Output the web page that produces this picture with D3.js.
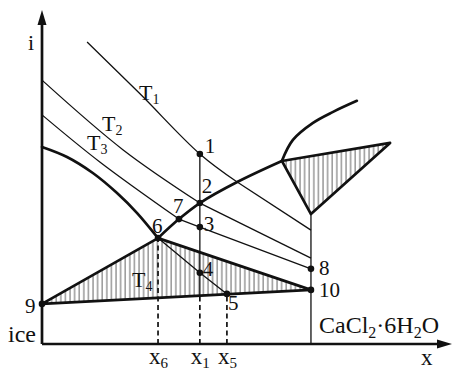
<!DOCTYPE html>
<html>
<head>
<meta charset="utf-8">
<script src="https://cdn.jsdelivr.net/npm/d3@7/dist/d3.min.js"></script>
<style>
  html, body { margin: 0; padding: 0; background: #fff; }
  svg { display: block; }
  text { font-family: "Liberation Serif", "DejaVu Serif", serif; fill: #111; }
</style>
</head>
<body>
<script>
// Enthalpy–concentration (i–x) diagram of the water – CaCl2·6H2O system.
// Coordinates are in relative units: x (concentration) 0..100, i (enthalpy) 0..100.

// Thick boundary curves
const iceCurve        = [[0, 59.0], [6.1, 56.0], [12.4, 51.2], [18.3, 45.2], [23.2, 39.2], [28.3, 31.7]];
const saturationCurve = [[28.3, 31.7], [33.4, 37.4], [38.5, 42.2], [47.6, 48.5], [58.5, 54.8]];
const upperCurve      = [[58.5, 54.8], [61.2, 61.1], [66.1, 66.2], [71.0, 69.5], [76.8, 72.8]];

// Hatched two-phase regions
const eutecticTriangle = [[0, 12.0], [28.3, 31.7], [65.6, 16.2]];
const hydrateTriangle  = [[58.5, 54.8], [84.9, 60.2], [65.6, 38.9]];

// Isotherms: curved branch in the solution field, straight tie line below saturation
const isoT1Curve = [[11.0, 90.4], [23.9, 74.9], [38.5, 56.9], [47.6, 48.5]];
const isoT1Tie   = [[47.6, 48.5], [65.6, 34.1]];
const isoT2Curve = [[0, 79.0], [19.8, 58.1], [38.5, 42.2]];
const isoT2Tie   = [[38.5, 42.2], [65.6, 25.7]];
const isoT3Curve = [[0, 68.6], [14.1, 54.5], [33.4, 37.4]];
const isoT3Tie   = [[33.4, 37.4], [38.5, 35.0], [65.6, 22.5]];
const mixLine    = [[28.3, 31.7], [38.5, 21.3], [45.1, 15.0]];   // 6 – 4 – 5

// Hydrate composition line
const hydrateX = 65.6;
const hydrateLineTop = 38.9;

// Numbered state points
const pointIds = ["1", "2", "3", "4", "5", "6", "7", "8", "9", "10"];
const pointX   = [38.5, 38.5, 38.5, 38.5, 45.1, 28.3, 33.4, 65.6, 0, 65.6];
const pointI   = [56.9, 42.2, 35.0, 21.3, 15.0, 31.7, 37.4, 22.5, 12.0, 16.2];

// Composition marks on the x axis
const markNames = ["6", "1", "5"];
const markX     = [28.3, 38.5, 45.1];
const markTop   = [31.7, 14.5, 15.0];   // where the dashed drop line starts
const x1SolidTop = 56.9;                // x1 line is solid from point 1 down to the base line

const isoLabels = ["1", "2", "3", "4"];

const W = 454, H = 370;
const svg = d3.select("body").append("svg").attr("width", W).attr("height", H);

const xs = d3.scaleLinear().domain([0, 100]).range([42, 452]);
const ys = d3.scaleLinear().domain([0, 100]).range([344, 10]);

const line = d3.line().x(d => xs(d[0])).y(d => ys(d[1]));
const smooth = d3.line().x(d => xs(d[0])).y(d => ys(d[1])).curve(d3.curveCatmullRom.alpha(0.5));

// vertical hatching pattern
const defs = svg.append("defs");
const pat = defs.append("pattern").attr("id", "hatch").attr("patternUnits", "userSpaceOnUse")
  .attr("width", 4.6).attr("height", 10);
pat.append("line").attr("x1", 1).attr("x2", 1).attr("y1", 0).attr("y2", 10)
  .attr("stroke", "#333").attr("stroke-width", 0.8);

const closed = pts => line(pts) + "Z";

// hatched regions
svg.append("path").attr("d", closed(eutecticTriangle)).attr("fill", "url(#hatch)").attr("stroke", "none");
svg.append("path").attr("d", closed(hydrateTriangle)).attr("fill", "url(#hatch)").attr("stroke", "none");

// thin lines
const thin = (d) => svg.append("path").attr("d", d).attr("fill", "none")
  .attr("stroke", "#111").attr("stroke-width", 1.3);
thin(smooth(isoT1Curve)); thin(line(isoT1Tie));
thin(smooth(isoT2Curve)); thin(line(isoT2Tie));
thin(smooth(isoT3Curve)); thin(line(isoT3Tie));
thin(line(mixLine));
// hydrate composition line
thin(line([[hydrateX, 0], [hydrateX, hydrateLineTop]]));
// x1 solid segment
thin(line([[markX[1], markTop[1]], [markX[1], x1SolidTop]]));

// dashed drop lines
markX.forEach((mx, k) => {
  svg.append("path").attr("d", line([[mx, 0], [mx, markTop[k]]]))
    .attr("stroke", "#111").attr("stroke-width", 1.7).attr("stroke-dasharray", "5,3.5")
    .attr("fill", "none");
});

// thick lines
const thick = (d) => svg.append("path").attr("d", d).attr("fill", "none")
  .attr("stroke", "#111").attr("stroke-width", 2.7).attr("stroke-linejoin", "round")
  .attr("stroke-linecap", "round");
thick(smooth(iceCurve));
thick(smooth(saturationCurve));
thick(smooth(upperCurve));
thick(closed(eutecticTriangle));
thick(closed(hydrateTriangle));

// axes
svg.append("path").attr("d", line([[0, 0], [0, 96]])).attr("stroke", "#111").attr("stroke-width", 2.7).attr("fill", "none");
svg.append("path").attr("d", line([[0, 0], [97, 0]])).attr("stroke", "#111").attr("stroke-width", 2.7).attr("fill", "none");
const yTip = [xs(0), ys(100)], xTip = [xs(100), ys(0)];
svg.append("path").attr("d", `M${yTip[0]},${yTip[1]} L${yTip[0] - 4.5},${yTip[1] + 15} L${yTip[0] + 4.5},${yTip[1] + 15}Z`).attr("fill", "#111");
svg.append("path").attr("d", `M${xTip[0]},${xTip[1]} L${xTip[0] - 15},${xTip[1] - 4.5} L${xTip[0] - 15},${xTip[1] + 4.5}Z`).attr("fill", "#111");

// points
pointIds.forEach((id, k) => {
  svg.append("circle").attr("cx", xs(pointX[k])).attr("cy", ys(pointI[k])).attr("r", 3.3).attr("fill", "#111");
});

// point labels
const labelOffset = {
  "1": [5, -1], "2": [2, -10], "3": [4, 4], "4": [3, 3], "5": [1, 16],
  "6": [-6, -5], "7": [-6, -6], "8": [8, 6], "9": [-17, 9], "10": [8, 7]
};
pointIds.forEach((id, k) => {
  const o = labelOffset[id];
  svg.append("text").attr("x", xs(pointX[k]) + o[0]).attr("y", ys(pointI[k]) + o[1])
    .attr("font-size", 21).text(id);
});

// subscripted label helper
function subLabel(x, y, main, sub, size, subSize, drop) {
  const t = svg.append("text").attr("x", x).attr("y", y).attr("font-size", size);
  t.append("tspan").text(main);
  t.append("tspan").attr("font-size", subSize).attr("dy", drop).text(sub);
  return t;
}

// isotherm labels
const isoPos = [[139, 100], [102, 131], [87, 150], [132, 287]];
isoLabels.forEach((s, k) => subLabel(isoPos[k][0], isoPos[k][1], "T", s, 22, 14, 4));

// axis titles
svg.append("text").attr("x", 28).attr("y", 50).attr("font-size", 22).text("i");
svg.append("text").attr("x", 421).attr("y", 365).attr("font-size", 23).text("x");
svg.append("text").attr("x", 8).attr("y", 342).attr("font-size", 24).text("ice");

// composition label of the hydrate
const hyd = svg.append("text").attr("x", 319).attr("y", 333).attr("font-size", 24);
hyd.append("tspan").text("CaCl");
hyd.append("tspan").attr("font-size", 16).attr("dy", 5).text("2");
hyd.append("tspan").attr("dy", -5).text("·6H");
hyd.append("tspan").attr("font-size", 16).attr("dy", 5).text("2");
hyd.append("tspan").attr("dy", -5).text("O");

// x-axis composition marks
markNames.forEach((n, k) => subLabel(xs(markX[k]) - 9, 364, "x", n, 23, 15, 4));
</script>
</body>
</html>
